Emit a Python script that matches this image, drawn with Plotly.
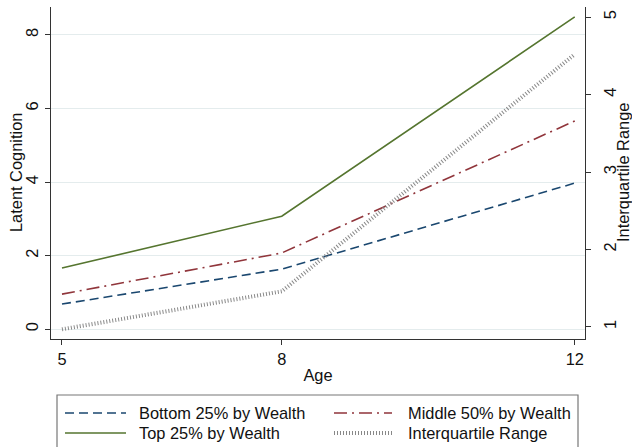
import plotly.graph_objects as go

# Ages at which cognition was measured
ages = [5, 8, 12]

# Latent cognition by wealth group (left axis)
bottom25 = [0.68, 1.63, 3.97]
middle50 = [0.95, 2.07, 5.66]
top25 = [1.66, 3.07, 8.49]

# Spread of latent cognition (right axis)
iqr = [0.97, 1.46, 4.52]

left_ticks = [0, 2, 4, 6, 8]
right_ticks = [1, 2, 3, 4, 5]
x_ticks = [5, 8, 12]

names = ["Bottom 25% by Wealth", "Middle 50% by Wealth",
         "Top 25% by Wealth", "Interquartile Range"]

NAVY = "#1a476f"
MAROON = "#90353b"
GREEN = "#55752f"
GRAY = "#888888"
FONT = "Liberation Sans, Arial, sans-serif"
FS = 16.4

styles = {
    names[0]: dict(color=NAVY, width=1.6, dash="9px,5px"),
    names[1]: dict(color=MAROON, width=1.6, dash="13px,5px,2px,5px"),
    names[2]: dict(color=GREEN, width=1.6, dash="solid"),
    names[3]: dict(color=GRAY, width=4, dash="1px,2px"),
}

fig = go.Figure()
for name, vals in zip(names[:3], [bottom25, middle50, top25]):
    fig.add_trace(go.Scatter(x=ages, y=vals, mode="lines", name=name,
                             line=styles[name], showlegend=False))
fig.add_trace(go.Scatter(x=ages, y=iqr, mode="lines", name=names[3],
                         line=styles[names[3]], yaxis="y2", showlegend=False))

# Plot area geometry in pixels (figure is 632 x 447)
W, H = 632, 447
L, R, T, B = 51, 585, 7, 339


def px(x):
    return (x - L) / (R - L)


def py(y):
    return (B - y) / (B - T)


def text(x, y, s, angle=0, anchor="center"):
    return dict(xref="paper", yref="paper", x=px(x), y=py(y), text=s,
                showarrow=False, xanchor=anchor, yanchor="middle",
                textangle=angle,
                font=dict(size=FS, color="#111111", family=FONT))


# Legend drawn as a framed box with line samples
shapes = [dict(type="rect", xref="paper", yref="paper",
               x0=px(57), x1=px(578), y0=py(452), y1=py(395),
               line=dict(color="#777777", width=1.2), fillcolor="white",
               layer="below")]
annotations = []
entries = [(names[0], 65, 126, 137, 413), (names[1], 334, 392, 406, 413),
           (names[2], 65, 126, 137, 433), (names[3], 334, 392, 406, 433)]
for name, x0, x1, tx, y in entries:
    st = styles[name]
    shapes.append(dict(type="line", xref="paper", yref="paper",
                       x0=px(x0), x1=px(x1), y0=py(y), y1=py(y),
                       line=dict(color=st["color"], width=st["width"],
                                 dash=st["dash"])))
    annotations.append(text(tx, y, name, anchor="left"))

# Axis titles
annotations.append(text(16, (T + B) / 2, "Latent Cognition", angle=-90))
annotations.append(text(623, (T + B) / 2, "Interquartile Range", angle=-90))

axis_common = dict(showline=True, linecolor="#333333", linewidth=1.2,
                   ticks="outside", ticklen=5, tickcolor="#333333",
                   tickfont=dict(size=FS, color="#111111", family=FONT),
                   zeroline=False, automargin=False)

fig.update_layout(
    width=W, height=H,
    margin=dict(l=L, r=W - R, t=T, b=H - B, autoexpand=False),
    paper_bgcolor="white", plot_bgcolor="white",
    font=dict(family=FONT, size=FS, color="#111111"),
    xaxis=dict(range=[4.85, 12.14], tickvals=x_ticks, showgrid=False,
               title=dict(text="Age", standoff=2,
                          font=dict(size=FS, family=FONT)),
               **axis_common),
    yaxis=dict(range=[-0.27, 8.76], tickvals=left_ticks, tickangle=-90,
               showgrid=True, gridcolor="#e4eced", gridwidth=1,
               **axis_common),
    yaxis2=dict(range=[0.845, 5.13], tickvals=right_ticks, tickangle=-90,
                overlaying="y", side="right", showgrid=False,
                ticklabelstandoff=5,
                **axis_common),
    shapes=shapes,
    annotations=annotations,
)

fig.write_html("out.html")
